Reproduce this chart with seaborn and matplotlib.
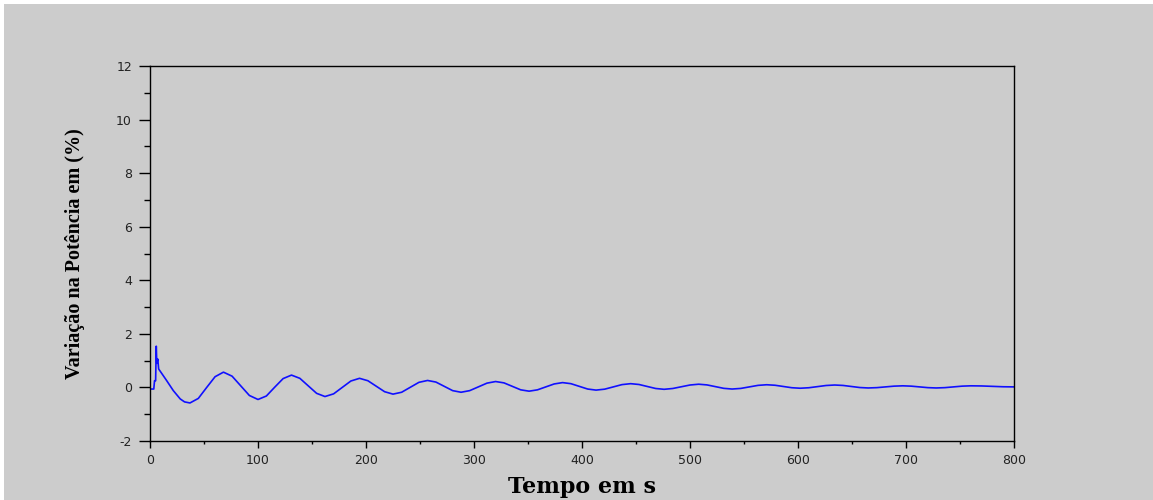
import matplotlib
matplotlib.use("Agg")
import matplotlib.pyplot as plt
from matplotlib.patches import Rectangle
from matplotlib.ticker import MultipleLocator
import seaborn as sns

# ---- data ----
tempo = [0, 3.5, 4.2, 5.2, 5.8, 6.3, 7.2, 8, 15, 21.6, 28, 32, 37,
         44.75, 52.5, 60.25, 68,
         76, 84, 92, 100,
         107.75, 115.5, 123.25, 131,
         138.75, 146.5, 154.25, 162,
         170, 178, 186, 194,
         201.75, 209.5, 217.25, 225,
         233, 241, 249, 257,
         264.75, 272.5, 280.25, 288,
         296, 304, 312, 320,
         327.75, 335.5, 343.25, 351,
         358.75, 366.5, 374.25, 382,
         389.75, 397.5, 405.25, 413,
         421, 429, 437, 445,
         452.75, 460.5, 468.25, 476,
         484, 492, 500, 508,
         515.75, 523.5, 531.25, 539,
         547, 555, 563, 571,
         578.75, 586.5, 594.25, 602,
         610, 618, 626, 634,
         641.75, 649.5, 657.25, 665,
         673, 681, 689, 697,
         704.75, 712.5, 720.25, 728,
         736, 744, 752, 760,
         770, 780, 790, 800]

variacao = [-0.06, -0.06, 0.25, 0.25, 1.54, 0.9, 1.06, 0.69, 0.28, -0.12, -0.43, -0.54, -0.58,
            -0.41, 0.00, 0.40, 0.57,
            0.42, 0.06, -0.30, -0.45,
            -0.32, 0.01, 0.33, 0.46,
            0.34, 0.06, -0.22, -0.34,
            -0.24, 0.00, 0.24, 0.34,
            0.25, 0.045, -0.16, -0.25,
            -0.18, 0.005, 0.19, 0.26,
            0.20, 0.04, -0.12, -0.18,
            -0.12, 0.02, 0.16, 0.22,
            0.17, 0.04, -0.09, -0.14,
            -0.09, 0.02, 0.13, 0.18,
            0.14, 0.04, -0.06, -0.10,
            -0.065, 0.02, 0.105, 0.14,
            0.11, 0.035, -0.04, -0.07,
            -0.04, 0.025, 0.09, 0.12,
            0.094, 0.03, -0.034, -0.06,
            -0.037, 0.02, 0.077, 0.10,
            0.081, 0.035, -0.011, -0.03,
            -0.012, 0.03, 0.072, 0.09,
            0.074, 0.035, -0.004, -0.02,
            -0.008, 0.02, 0.048, 0.06,
            0.048, 0.02, -0.008, -0.02,
            -0.008, 0.02, 0.048, 0.06,
            0.055, 0.04, 0.025, 0.02]

x_ticks = [0, 100, 200, 300, 400, 500, 600, 700, 800]
y_ticks = [-2, 0, 2, 4, 6, 8, 10, 12]
x_label = "Tempo em s"
y_label = "Variação na Potência em (%)"

BG = "#cccccc"

sns.set_style("ticks", {"axes.facecolor": BG, "figure.facecolor": "white",
                        "axes.edgecolor": "black", "xtick.color": "black",
                        "ytick.color": "black", "text.color": "black",
                        "axes.labelcolor": "black"})

fig = plt.figure(figsize=(11.53, 5.0), dpi=100)
fig.patch.set_facecolor("white")
fig.add_artist(Rectangle((4 / 1153, 0), 1 - 4 / 1153, 1 - 4 / 500,
                         transform=fig.transFigure, facecolor=BG,
                         edgecolor="none", zorder=-10))

ax = fig.add_axes([150 / 1153, 1 - 441 / 500, 864 / 1153, 375 / 500])
ax.set_facecolor(BG)

sns.lineplot(x=tempo, y=variacao, ax=ax, color="#1010ff", linewidth=1.2,
             estimator=None, sort=False)

ax.set_xlim(0, 800)
ax.set_ylim(-2, 12)
ax.set_xticks(x_ticks)
ax.set_yticks(y_ticks)
ax.set_xticklabels([str(v) for v in x_ticks], fontsize=9, family="DejaVu Sans",
                   color="#222222")
ax.set_yticklabels([str(v) for v in y_ticks], fontsize=9, family="DejaVu Sans",
                   color="#222222")
ax.xaxis.set_minor_locator(MultipleLocator(50))
ax.yaxis.set_minor_locator(MultipleLocator(1))

ax.tick_params(axis="x", which="major", direction="out", length=5, width=1, pad=4)
ax.tick_params(axis="x", which="minor", direction="out", length=2.5, width=1)
ax.tick_params(axis="y", which="major", direction="out", length=8, width=1, pad=5)
ax.tick_params(axis="y", which="minor", direction="out", length=4, width=1)

for s in ax.spines.values():
    s.set_visible(True)
    s.set_color("black")
    s.set_linewidth(1.0)

ax.set_xlabel(x_label, fontsize=16, fontweight="bold", family="DejaVu Serif",
              color="black")
ax.set_ylabel(y_label, fontsize=14.5, fontweight="bold", family="Liberation Serif",
              color="black")
ax.xaxis.set_label_coords(0.5, -0.093)
ax.yaxis.set_label_coords(-0.075, 0.5)

fig.savefig("out.png", dpi=100, facecolor=fig.get_facecolor())
